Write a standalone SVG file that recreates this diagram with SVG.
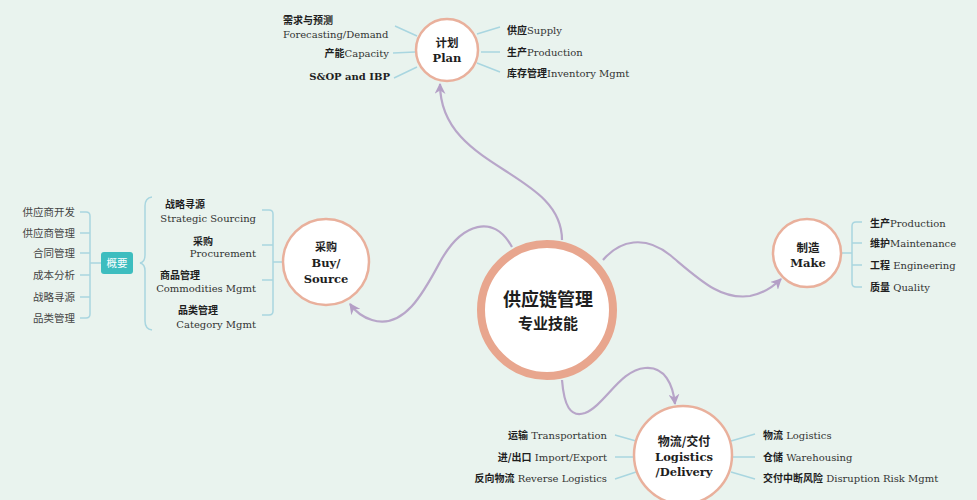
<svg xmlns="http://www.w3.org/2000/svg" width="977" height="500" viewBox="0 0 977 500">
<defs>
<style>
text{font-family:"DejaVu Serif","Noto Sans CJK SC",serif;fill:#333;font-size:10px}
.b{font-weight:bold;fill:#1e1e1e}
.cn{font-family:"Noto Sans CJK SC",sans-serif;font-weight:bold;fill:#1e1e1e}
.cr{font-family:"Noto Sans CJK SC",sans-serif;fill:#444;font-size:10.5px}
.node{fill:#fff;stroke:#e9b09c;stroke-width:2.5}
.lbl{text-anchor:middle;font-weight:bold;font-size:11.5px;fill:#1e1e1e}
.leaf{stroke:#a9d6e0;stroke-width:1.5;fill:none}
.conn{stroke:#b8a6c9;stroke-width:2.2;fill:none}
</style>
<marker id="arr" viewBox="0 0 10 10" refX="9" refY="5" markerWidth="11" markerHeight="11" markerUnits="userSpaceOnUse" orient="auto">
<path d="M0,0 L10,5 L0,10 L3,5 z" fill="#b49fc6"/>
</marker>
</defs>
<rect width="977" height="500" fill="#e9f3ee"/>

<g id="connectors">
<path class="conn" d="M562,240 C562,170 440,170 440,84" marker-end="url(#arr)"/>
<path class="conn" d="M512,247 C494,214 462,222 440,262 C424,292 404,330 372,320 C362,317 355,311 350,304" marker-end="url(#arr)"/>
<path class="conn" d="M603,260 C620,240 645,235 670,255 C700,280 720,300 750,296 C765,293 775,285 781,279" marker-end="url(#arr)"/>
<path class="conn" d="M562,380 C564,405 570,418 585,413 C605,405 620,370 645,368 C665,366 673,385 675,404" marker-end="url(#arr)"/>
<path class="leaf" d="M395,26 L417,36 M393,53 L415,52 M394,78 L417,67 M477,34 L500,27 M481,52 L500,52 M477,63 L500,72"/>
<path class="leaf" d="M615,435 L636,441 M615,457 L635,457 M615,479 L636,472 M731,441 L755,434 M733,457 L755,457 M731,472 L755,479"/>
<path class="leaf" d="M80,212 H86 Q90,212 90,216 V314 Q90,318 86,318 H80 M80,233 H90 M80,253 H90 M80,275 H90 M80,297 H90 M90,263 H101"/>
<path class="leaf" d="M152,197 Q145,198 145,206 V255 Q145,262 140,263 Q145,264 145,271 V321 Q145,329 152,330"/>
<path class="leaf" d="M262,210 H269 Q273,210 273,214 V311 Q273,315 269,315 H262 M262,245 H273 M262,280 H273 M273,262 H283"/>
<path class="leaf" d="M862,222 H856 Q852,222 852,226 V283 Q852,287 856,287 H862 M852,243 H862 M852,265 H862 M842,253 H852"/>
</g>

<g id="center">
<circle cx="547" cy="310" r="66" fill="#fff" stroke="#e8a68e" stroke-width="8"/>
<text class="cn" x="548" y="306" text-anchor="middle" style="font-size:18px">供应链管理</text>
<text class="cn" x="548" y="329" text-anchor="middle" style="font-size:15px">专业技能</text>
</g>

<g id="plan">
<circle class="node" cx="447" cy="50" r="31"/>
<text class="lbl" x="447" y="47"><tspan class="cn" font-size="11.5">计划</tspan></text>
<text class="lbl" x="447" y="62">Plan</text>
<text x="283" y="24" class="cn">需求与预测</text>
<text x="283" y="38">Forecasting/Demand</text>
<text x="389" y="57" text-anchor="end"><tspan class="cn">产能</tspan>Capacity</text>
<text x="390" y="80" text-anchor="end" class="b">S&amp;OP and IBP</text>
<text x="507" y="34"><tspan class="cn">供应</tspan>Supply</text>
<text x="507" y="56"><tspan class="cn">生产</tspan>Production</text>
<text x="507" y="77"><tspan class="cn">库存管理</tspan>Inventory Mgmt</text>
</g>

<g id="buy">
<circle class="node" cx="326" cy="262" r="43"/>
<text class="lbl" x="326" y="251"><tspan class="cn" font-size="11">采购</tspan></text>
<text class="lbl" x="326" y="267">Buy/</text>
<text class="lbl" x="326" y="283">Source</text>
<text x="165" y="208" class="cn">战略寻源</text>
<text x="256" y="222" text-anchor="end">Strategic Sourcing</text>
<text x="193" y="245" class="cn">采购</text>
<text x="256" y="257" text-anchor="end">Procurement</text>
<text x="160" y="279" class="cn">商品管理</text>
<text x="256" y="292" text-anchor="end">Commodities Mgmt</text>
<text x="178" y="314" class="cn">品类管理</text>
<text x="256" y="328" text-anchor="end">Category Mgmt</text>
</g>

<g id="summary">
<rect x="101" y="252" width="32" height="22" rx="3" fill="#3dbdbf"/>
<text x="117" y="267" text-anchor="middle" style="font-family:'Noto Sans CJK SC',sans-serif;fill:#fff;font-size:10.5px">概要</text>
<text class="cr" x="75" y="216" text-anchor="end">供应商开发</text>
<text class="cr" x="75" y="237" text-anchor="end">供应商管理</text>
<text class="cr" x="75" y="257" text-anchor="end">合同管理</text>
<text class="cr" x="75" y="279" text-anchor="end">成本分析</text>
<text class="cr" x="75" y="301" text-anchor="end">战略寻源</text>
<text class="cr" x="75" y="322" text-anchor="end">品类管理</text>
</g>

<g id="make">
<circle class="node" cx="807" cy="253" r="34"/>
<text class="lbl" x="808" y="252"><tspan class="cn" font-size="11.5">制造</tspan></text>
<text class="lbl" x="808" y="267">Make</text>
<text x="870" y="227"><tspan class="cn">生产</tspan>Production</text>
<text x="870" y="247"><tspan class="cn">维护</tspan>Maintenance</text>
<text x="870" y="269"><tspan class="cn">工程</tspan> Engineering</text>
<text x="870" y="291"><tspan class="cn">质量</tspan> Quality</text>
</g>

<g id="logistics">
<circle class="node" cx="683" cy="455" r="49"/>
<text class="lbl" x="684" y="446"><tspan class="cn" font-size="12">物流/交付</tspan></text>
<text class="lbl" x="684" y="461">Logistics</text>
<text class="lbl" x="684" y="476">/Delivery</text>
<text x="607" y="439" text-anchor="end"><tspan class="cn">运输</tspan> Transportation</text>
<text x="607" y="461" text-anchor="end"><tspan class="cn">进/出口</tspan> Import/Export</text>
<text x="607" y="482" text-anchor="end"><tspan class="cn">反向物流</tspan> Reverse Logistics</text>
<text x="763" y="439"><tspan class="cn">物流</tspan> Logistics</text>
<text x="763" y="461"><tspan class="cn">仓储</tspan> Warehousing</text>
<text x="763" y="482"><tspan class="cn">交付中断风险</tspan> Disruption Risk Mgmt</text>
</g>
</svg>
